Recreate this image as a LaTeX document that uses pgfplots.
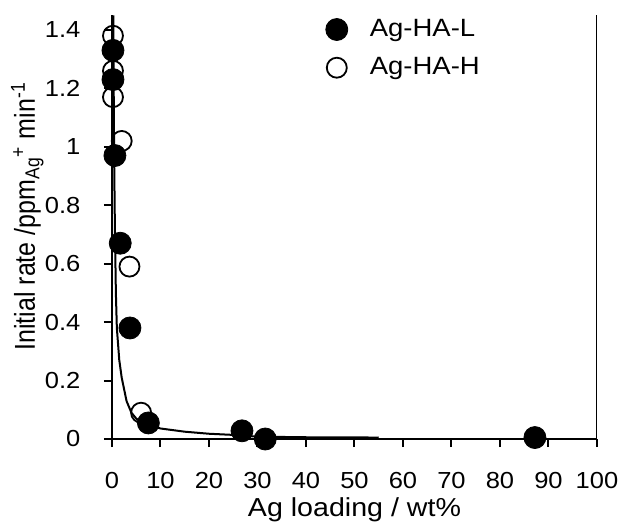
\documentclass[border=0pt]{standalone}
\usepackage{fontspec}
\setmainfont{Liberation Sans}
\newfontfamily\widesans[FakeStretch=1.1]{Liberation Sans}
\usepackage{pgfplots}
\pgfplotsset{compat=1.18}

\begin{document}
\begin{tikzpicture}
\begin{axis}[
    scale only axis,
    width=242.5pt, height=212pt,
    xmin=0, xmax=100, ymin=0, ymax=1.451,
    axis x line*=bottom, axis y line*=left,
    axis line style={line width=1.3pt},
    xtick={0,10,20,30,40,50,60,70,80,90,100},
    ytick={0,0.2,0.4,0.6,0.8,1,1.2,1.4},
    tick align=outside, major tick length=4pt,
    tick style={line width=1pt, black},
    /pgf/number format/assume math mode=true,
    tick label style={font=\fontsize{11.6}{13}\selectfont\widesans},
    xticklabel style={inner sep=1pt, yshift=-11.5pt},
    yticklabel style={xshift=-8.3pt},
    xlabel={Ag loading / wt\%},
    xlabel style={font=\fontsize{13}{15}\selectfont\widesans, inner sep=1pt,
      at={(axis description cs:0.5,0)}, anchor=base, yshift=-38.5pt},
    ylabel={\scalebox{1}[1.15]{Initial rate /ppm\textsubscript{Ag}\textsuperscript{+} min\textsuperscript{-1}}},
    ylabel style={font=\fontsize{12.5}{14}\selectfont,
      at={(axis description cs:0,0.525)}, anchor=base, yshift=38.5pt},
    legend style={draw=none, fill=none, inner sep=0pt,
      at={(axis description cs:0.44,1.0)}, anchor=north west,
      font=\fontsize{12.5}{14}\selectfont\widesans,
      row sep=5pt,
      /tikz/every odd column/.append style={column sep=9pt}},
    legend cell align=left,
    reverse legend,
    legend image code/.code={\draw[#1] plot coordinates {(0pt,0pt)};},
]
% fitted curve
\addplot[black, line width=1pt, forget plot] coordinates {
  (0.28,1.45)(0.35,1.2)(0.45,0.95)(0.6,0.72)(0.8,0.5)(1.0,0.38)
  (1.5,0.27)(2,0.21)(2.5,0.17)(3,0.13)(4,0.09)(5,0.07)(6,0.058)
  (8,0.045)(10,0.036)(15,0.025)(20,0.018)(25,0.014)(30,0.008)
  (40,0.006)(55,0.005)
};
% Ag-HA-H
\addplot[only marks, mark=o, mark size=5pt, black, line width=0.9pt] coordinates {
  (0.2,1.38)(0.2,1.26)(0.2,1.17)(2.0,1.02)(3.6,0.59)(6.0,0.09)
};
\addlegendentry{Ag-HA-H}
% Ag-HA-L
\addplot[only marks, mark=*, mark size=5.5pt, black, fill=black] coordinates {
  (0.2,1.33)(0.2,1.23)(0.6,0.97)(1.7,0.67)(3.7,0.38)(7.5,0.055)
  (26.8,0.028)(31.6,0.0)(87.2,0.005)
};
\addlegendentry{Ag-HA-L}
\draw[line width=1.3pt] (rel axis cs:1,0) -- (rel axis cs:1,1);
\end{axis}
\pgfresetboundingbox
\path ([shift={(-56pt,-41pt)}]current axis.south west) rectangle ([shift={(255.5pt,219.5pt)}]current axis.south west);
\end{tikzpicture}
\end{document}
